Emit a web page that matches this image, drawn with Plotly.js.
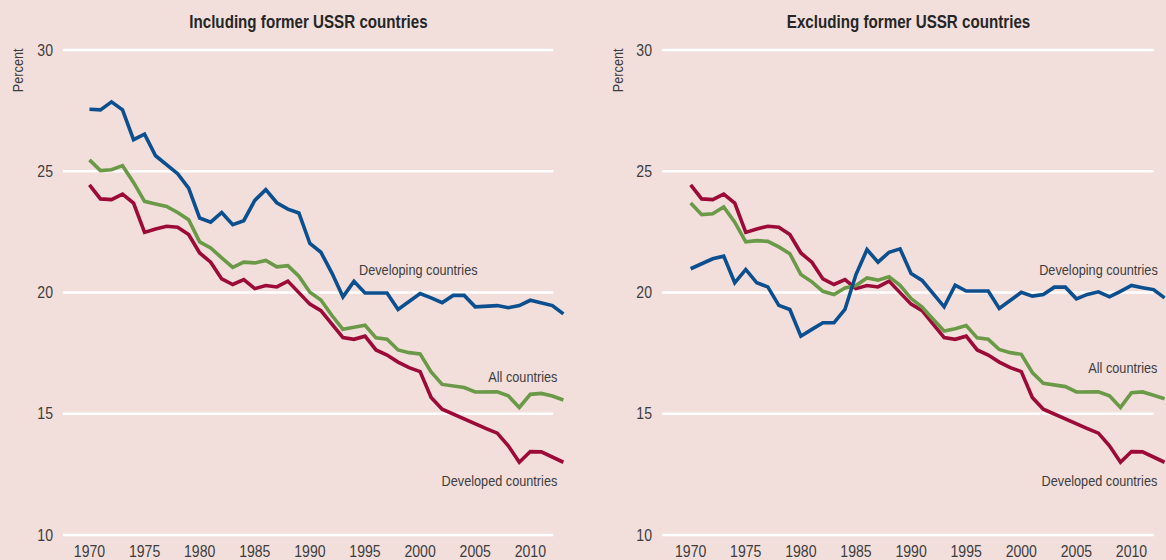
<!DOCTYPE html>
<html>
<head>
<meta charset="utf-8">
<script src="https://cdn.plot.ly/plotly-3.0.1.min.js"></script>
<style>
  html, body { margin: 0; padding: 0; background: #f2dfdc; }
  #chart { width: 1166px; height: 560px; }
</style>
</head>
<body>
<div id="chart"></div>
<script>
const years = [1970,1971,1972,1973,1974,1975,1976,1977,1978,1979,1980,1981,1982,1983,1984,1985,1986,1987,1988,1989,1990,1991,1992,1993,1994,1995,1996,1997,1998,1999,2000,2001,2002,2003,2004,2005,2006,2007,2008,2009,2010,2011,2012,2013];

// Including former USSR countries
const developingIncl = [27.56,27.53,27.86,27.53,26.30,26.53,25.64,25.27,24.90,24.30,23.07,22.90,23.30,22.80,22.96,23.80,24.24,23.70,23.44,23.28,22.02,21.66,20.80,19.82,20.46,19.98,19.98,19.98,19.30,19.62,19.96,19.78,19.58,19.88,19.88,19.41,19.43,19.46,19.37,19.46,19.68,19.58,19.46,19.12];
const allIncl = [25.47,25.03,25.06,25.23,24.54,23.76,23.65,23.55,23.30,23.00,22.09,21.84,21.43,21.04,21.25,21.22,21.32,21.06,21.11,20.67,20.01,19.69,19.05,18.48,18.57,18.65,18.13,18.07,17.63,17.52,17.47,16.72,16.21,16.14,16.08,15.90,15.90,15.91,15.74,15.26,15.80,15.84,15.73,15.57];
const developed = [24.44,23.86,23.83,24.06,23.69,22.48,22.62,22.73,22.69,22.39,21.63,21.25,20.56,20.33,20.53,20.16,20.29,20.23,20.47,19.99,19.52,19.25,18.70,18.14,18.07,18.20,17.63,17.42,17.13,16.90,16.74,15.67,15.19,14.98,14.80,14.57,14.39,14.20,13.68,13.00,13.44,13.43,13.22,13.00];

// Excluding former USSR countries
const developingExcl = [20.98,21.18,21.39,21.50,20.40,20.95,20.40,20.23,19.47,19.30,18.20,18.48,18.75,18.75,19.30,20.74,21.77,21.25,21.66,21.80,20.78,20.50,19.97,19.41,20.30,20.06,20.06,20.06,19.34,19.68,20.01,19.85,19.92,20.22,20.22,19.74,19.92,20.03,19.82,20.05,20.29,20.20,20.12,19.78];
const allExcl = [23.69,23.21,23.25,23.53,22.90,22.09,22.14,22.11,21.88,21.60,20.74,20.44,20.05,19.92,20.19,20.29,20.60,20.51,20.65,20.30,19.75,19.40,18.90,18.41,18.51,18.64,18.13,18.07,17.65,17.52,17.45,16.70,16.26,16.19,16.12,15.90,15.90,15.91,15.74,15.26,15.87,15.90,15.76,15.62];

const panelTitles = ["Including former USSR countries", "Excluding former USSR countries"];
const seriesNames = ["Developing countries", "All countries", "Developed countries"];
const yTicks = [10, 15, 20, 25, 30];
const xTicks = [1970, 1975, 1980, 1985, 1990, 1995, 2000, 2005, 2010];

const BG = '#f2dfdc';
const BLUE = '#0b4f8f', GREEN = '#6a9a47', RED = '#9c0b38';
const FONT = '"Liberation Sans", Arial, sans-serif';
const TXT = '#3d3d3d';

function line(y, color, xa, ya) {
  return { x: years, y: y, type: 'scatter', mode: 'lines', xaxis: xa, yaxis: ya,
    line: { color: color, width: 3.6, shape: 'linear' }, hoverinfo: 'x+y', showlegend: false };
}

const traces = [
  line(developed, RED, 'x', 'y'),
  line(allIncl, GREEN, 'x', 'y'),
  line(developingIncl, BLUE, 'x', 'y'),
  line(developed, RED, 'x2', 'y2'),
  line(allExcl, GREEN, 'x2', 'y2'),
  line(developingExcl, BLUE, 'x2', 'y2')
];

const H = 560, MT = 30, MB = 20, PH = H - MT - MB;
const yRange = [9.794, 30.825];
function py(px) { return 1 - (px - MT) / PH; }

function xAxis(domain, range) {
  return { domain: domain, range: range, showgrid: false, zeroline: false, showline: false,
    ticks: '', tickvals: xTicks, ticktext: xTicks.map(String),
    tickfont: { family: FONT, size: 16, color: TXT }, fixedrange: true };
}
function yAxis(anchor) {
  return { domain: [0, 1], range: yRange, anchor: anchor, showgrid: false, zeroline: false, showline: false,
    ticks: '', tickvals: yTicks, ticktext: yTicks.map(String), ticklabelstandoff: 9,
    tickfont: { family: FONT, size: 16, color: TXT }, fixedrange: true };
}

const shapes = [];
yTicks.forEach(v => {
  shapes.push({ type: 'line', xref: 'x', yref: 'y', x0: 1967.6, x1: 2012.08, y0: v, y1: v,
    line: { color: '#ffffff', width: 2.6 }, layer: 'below' });
  shapes.push({ type: 'line', xref: 'x2', yref: 'y2', x0: 1967.4, x1: 2012.04, y0: v, y1: v,
    line: { color: '#ffffff', width: 2.6 }, layer: 'below' });
});

const labelFont = { family: FONT, size: 15.5, color: TXT };
const titleFont = { family: FONT, size: 18.5, color: '#262626', weight: 'bold' };
function lab(text, xref, yref, x, y, side) {
  return { text: text, xref: xref, yref: yref, x: x, y: y, xanchor: side, align: side,
    yanchor: 'middle', showarrow: false, font: labelFont, borderpad: 0, borderwidth: 0 };
}
const annotations = [
  { text: panelTitles[0], xref: 'paper', yref: 'paper', x: 308/1166, y: py(21.5), xanchor: 'center', yanchor: 'middle', showarrow: false, font: titleFont },
  { text: panelTitles[1], xref: 'paper', yref: 'paper', x: 908/1166, y: py(21.5), xanchor: 'center', yanchor: 'middle', showarrow: false, font: titleFont },
  { text: 'Percent', xref: 'paper', yref: 'paper', x: 18/1166, y: py(70), xanchor: 'center', yanchor: 'middle', textangle: -90, showarrow: false, font: labelFont },
  { text: 'Percent', xref: 'paper', yref: 'paper', x: 618/1166, y: py(70), xanchor: 'center', yanchor: 'middle', textangle: -90, showarrow: false, font: labelFont },
  lab(seriesNames[0], 'x', 'y', 1994.47, 20.93, 'left'),
  lab(seriesNames[1], 'x', 'y', 2012.53, 16.52, 'right'),
  lab(seriesNames[2], 'x', 'y', 2012.53, 12.23, 'right'),
  lab(seriesNames[0], 'x2', 'y2', 2012.42, 20.93, 'right'),
  lab(seriesNames[1], 'x2', 'y2', 2012.42, 16.89, 'right'),
  lab(seriesNames[2], 'x2', 'y2', 2012.42, 12.23, 'right')
];

const layout = {
  width: 1166, height: H,
  margin: { l: 0, r: 0, t: MT, b: MB, pad: 0 },
  paper_bgcolor: BG, plot_bgcolor: BG,
  showlegend: false,
  xaxis: Object.assign(xAxis([63/1166, 570/1166], [1967.6, 2013.6]), { anchor: 'y' }),
  yaxis: yAxis('x'),
  xaxis2: Object.assign(xAxis([662/1166, 1], [1967.4, 2013.13]), { anchor: 'y2' }),
  yaxis2: yAxis('x2'),
  shapes: shapes,
  annotations: annotations
};

// Emulate a condensed typeface: squeeze each text horizontally about its own
// anchor point (start / middle / end), keeping Plotly's placement.
function condense(selector, factor) {
  document.querySelectorAll(selector).forEach(t => {
    const ax = parseFloat(t.getAttribute('x')) || 0;
    const prev = t.getAttribute('transform') || '';
    t.setAttribute('transform', (prev + ' translate(' + ax + ',0) scale(' + factor + ',1) translate(' + (-ax) + ',0)').trim());
  });
}

Plotly.newPlot('chart', traces, layout, { displayModeBar: false, staticPlot: true }).then(() => {
  condense('#chart .annotation-text', 0.82);
  condense('#chart .xtick text, #chart .ytick text, #chart .x2tick text, #chart .y2tick text', 0.88);
});
</script>
</body>
</html>
